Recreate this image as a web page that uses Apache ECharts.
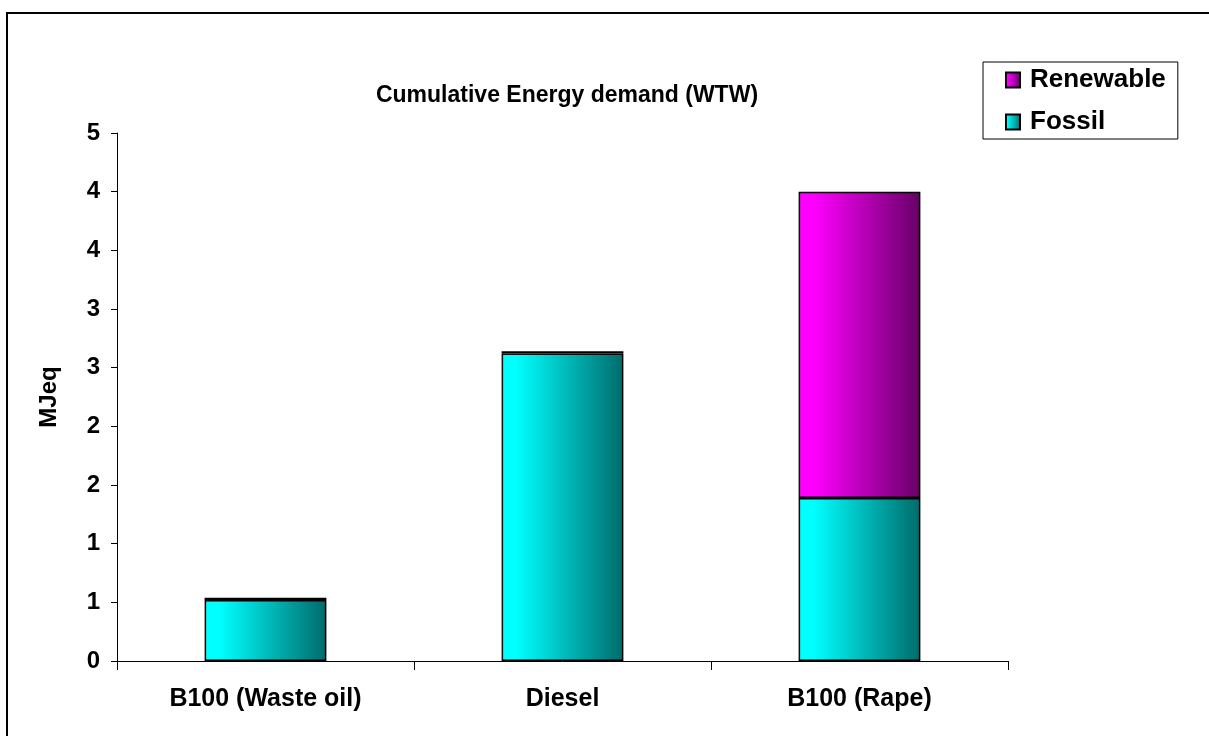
<!DOCTYPE html>
<html>
<head>
<meta charset="utf-8">
<title>Cumulative Energy demand (WTW)</title>
<script src="https://cdn.jsdelivr.net/npm/echarts@6/dist/echarts.min.js"></script>
<style>
  html, body { margin: 0; padding: 0; background: #fff; }
  #chart { width: 1209px; height: 736px; }
</style>
</head>
<body>
<div id="chart"></div>
<script>
// Fuel pathways on the category axis
const categories = ['B100 (Waste oil)', 'Diesel', 'B100 (Rape)'];
// Cumulative energy demand split by source, MJeq
const fossil = [0.52, 2.62, 1.39];
const renewable = [0.02, 0.02, 2.61];
// Value axis range and step
const yMin = 0;
const yMax = 4.5;
const yStep = 0.5;

const FONT = 'Liberation Sans, Arial, sans-serif';

function hGrad(light, dark) {
  return new echarts.graphic.LinearGradient(0, 0, 1, 0, [
    { offset: 0, color: light },
    { offset: 0.12, color: light },
    { offset: 1, color: dark }
  ]);
}

const chart = echarts.init(document.getElementById('chart'), null, { renderer: 'canvas' });

const barStyle = (light, dark) => ({
  color: hGrad(light, dark),
  borderColor: '#000',
  borderWidth: 1.5
});

chart.setOption({
  animation: false,
  backgroundColor: '#fff',
  title: {
    text: 'Cumulative Energy demand (WTW)',
    left: 562,
    textAlign: 'center',
    top: 79,
    textStyle: { fontFamily: FONT, fontWeight: 'bold', fontSize: 23, color: '#000' }
  },
  legend: {
    orient: 'vertical',
    left: 983,
    top: 62,
    padding: [5, 12, 4, 22],
    itemGap: 16,
    itemWidth: 14,
    itemHeight: 15,
    backgroundColor: '#fff',
    borderColor: '#000',
    borderWidth: 1,
    data: [
      { name: 'Renewable', icon: 'rect' },
      { name: 'Fossil', icon: 'rect' }
    ],
    textStyle: {
      fontFamily: FONT, fontWeight: 'bold', fontSize: 26, color: '#000',
      lineHeight: 24, padding: [0, 0, 0, 5]
    }
  },
  grid: { left: 117, right: 201, top: 133, bottom: 75, containLabel: false },
  xAxis: {
    type: 'category',
    data: categories,
    axisLine: { lineStyle: { color: '#000', width: 1 } },
    axisTick: { show: true, length: 9, lineStyle: { color: '#000' } },
    axisLabel: {
      margin: 26,
      fontFamily: FONT, fontWeight: 'bold', fontSize: 25, color: '#000'
    }
  },
  yAxis: {
    type: 'value',
    min: yMin,
    max: yMax,
    interval: yStep,
    name: 'MJeq',
    nameLocation: 'middle',
    nameGap: 56,
    nameRotate: 90,
    nameTextStyle: { fontFamily: FONT, fontWeight: 'bold', fontSize: 24, color: '#000' },
    axisLine: { show: true, lineStyle: { color: '#000', width: 1 } },
    axisTick: { show: true, length: 6, lineStyle: { color: '#000' } },
    splitLine: { show: false },
    axisLabel: {
      margin: 17,
      formatter: v => String(Math.round(v)),
      fontFamily: FONT, fontWeight: 'bold', fontSize: 24, color: '#000'
    }
  },
  series: [
    {
      name: 'Fossil',
      type: 'bar',
      stack: 'ced',
      barWidth: '41%',
      data: fossil,
      itemStyle: barStyle('#00ffff', '#006b6b')
    },
    {
      name: 'Renewable',
      type: 'bar',
      stack: 'ced',
      barWidth: '41%',
      data: renewable,
      itemStyle: barStyle('#ff00ff', '#660066')
    }
  ],
  graphic: [
    {
      type: 'rect',
      silent: true,
      shape: { x: 7, y: 13, width: 1300, height: 800 },
      style: { fill: 'none', stroke: '#000', lineWidth: 2 },
      z: 100
    }
  ]
});
</script>
</body>
</html>
